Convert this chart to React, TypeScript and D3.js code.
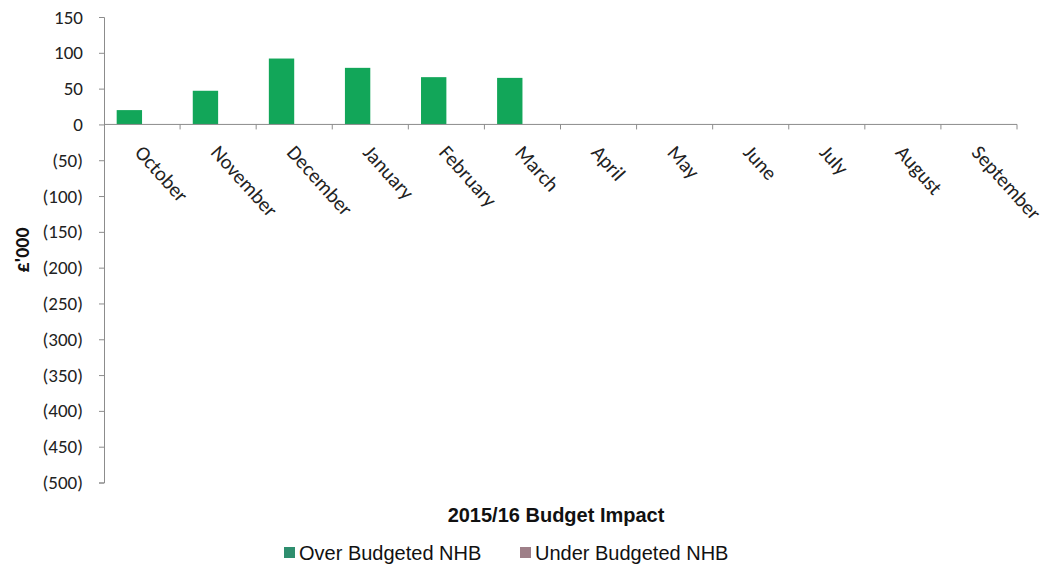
import * as d3 from "d3";
import { useEffect, useRef } from "react";

const months = ["October", "November", "December", "January", "February", "March", "April", "May", "June", "July", "August", "September"];
const overBudgeted = [20, 47, 92, 79, 66, 65, 0, 0, 0, 0, 0, 0];
const underBudgeted = [0, 0, 0, 0, 0, 0, 0, 0, 0, 0, 0, 0];
const seriesNames = ["Over Budgeted NHB", "Under Budgeted NHB"];
const yTicks = [150, 100, 50, 0, -50, -100, -150, -200, -250, -300, -350, -400, -450, -500];

export default function App() {
  const ref = useRef<SVGSVGElement | null>(null);

  useEffect(() => {
    if (!ref.current) return;
    const width = 1048;
    const height = 575;
    const margin = { top: 17, left: 104, right: 1017, bottom: 482.5 };

    const svg = d3.select(ref.current);
    svg.selectAll("*").remove();

    const x = d3.scaleBand().domain(months).range([margin.left, margin.right]);
    const inner = d3.scaleBand().domain(seriesNames).range([0, x.bandwidth()]).paddingOuter(0.5);
    const y = d3.scaleLinear().domain([-500, 150]).range([margin.bottom, margin.top]);

    const axisColor = "#8c8c8c";
    const labelFont = "Carlito, Lato, 'Open Sans', sans-serif";

    // y axis
    const yAxis = svg
      .append("g")
      .attr("transform", `translate(${margin.left},0)`)
      .call(
        d3
          .axisLeft(y)
          .tickValues(yTicks)
          .tickSize(5)
          .tickPadding(16)
          .tickFormat((d) => {
            const v = d as number;
            return v < 0 ? `(${-v})` : `${v}`;
          })
      );
    yAxis.select(".domain").attr("stroke", axisColor);
    yAxis.selectAll(".tick line").attr("stroke", axisColor);
    yAxis
      .selectAll(".tick text")
      .attr("fill", "#222")
      .style("font-family", labelFont)
      .style("font-size", "19px");

    // bars
    const colors = ["#12a659", "#9e7f88"];
    const series = [overBudgeted, underBudgeted];
    series.forEach((vals, si) => {
      svg
        .append("g")
        .selectAll("rect")
        .data(vals)
        .join("rect")
        .attr("x", (_, i) => x(months[i])! + inner(seriesNames[si])!)
        .attr("width", inner.bandwidth())
        .attr("y", (d) => y(Math.max(0, d)))
        .attr("height", (d) => Math.abs(y(d) - y(0)))
        .attr("fill", colors[si]);
    });

    // x axis at zero
    const xg = svg.append("g");
    xg.append("line")
      .attr("x1", margin.left)
      .attr("x2", margin.right)
      .attr("y1", y(0))
      .attr("y2", y(0))
      .attr("stroke", axisColor);
    xg.selectAll("line.tk")
      .data(months)
      .join("line")
      .attr("class", "tk")
      .attr("x1", (d) => x(d)! + x.bandwidth())
      .attr("x2", (d) => x(d)! + x.bandwidth())
      .attr("y1", y(0))
      .attr("y2", y(0) + 5)
      .attr("stroke", axisColor);
    xg.selectAll("text")
      .data(months)
      .join("text")
      .attr("transform", (d) => `translate(${x(d)! + x.bandwidth() / 2 - 3},${y(0) + 24}) rotate(48)`)
      .attr("text-anchor", "start")
      .attr("dy", "0.35em")
      .attr("fill", "#222")
      .style("font-family", labelFont)
      .style("font-size", "20.5px")
      .text((d) => d);

    // y title
    svg
      .append("text")
      .attr("transform", `translate(29,250) rotate(-90)`)
      .attr("text-anchor", "middle")
      .style("font-family", labelFont)
      .style("font-size", "20px")
      .style("font-weight", "bold")
      .attr("fill", "#111")
      .text("£'000");

    // chart title
    svg
      .append("text")
      .attr("x", 556)
      .attr("y", 522)
      .attr("text-anchor", "middle")
      .style("font-family", "'Liberation Sans', Arial, sans-serif")
      .style("font-size", "20px")
      .style("font-weight", "bold")
      .attr("fill", "#111")
      .text("2015/16 Budget Impact");

    // legend
    const legendColors = ["#2e8e6e", "#9e7f88"];
    const legendX = [284, 520];
    seriesNames.forEach((name, i) => {
      const g = svg.append("g").attr("transform", `translate(${legendX[i]},553)`);
      g.append("rect").attr("x", 0).attr("y", -6).attr("width", 11).attr("height", 11).attr("fill", legendColors[i]);
      g.append("text")
        .attr("x", 15)
        .attr("y", 0)
        .attr("dy", "0.35em")
        .style("font-family", "'Liberation Sans', Arial, sans-serif")
        .style("font-size", "20px")
        .attr("fill", "#111")
        .text(name);
    });

    svg.attr("width", width).attr("height", height);
  }, []);

  return (
    <svg
      ref={ref}
      width={1048}
      height={575}
      style={{ position: "absolute", left: 0, top: 0, background: "#fff" }}
    ></svg>
  );
}
